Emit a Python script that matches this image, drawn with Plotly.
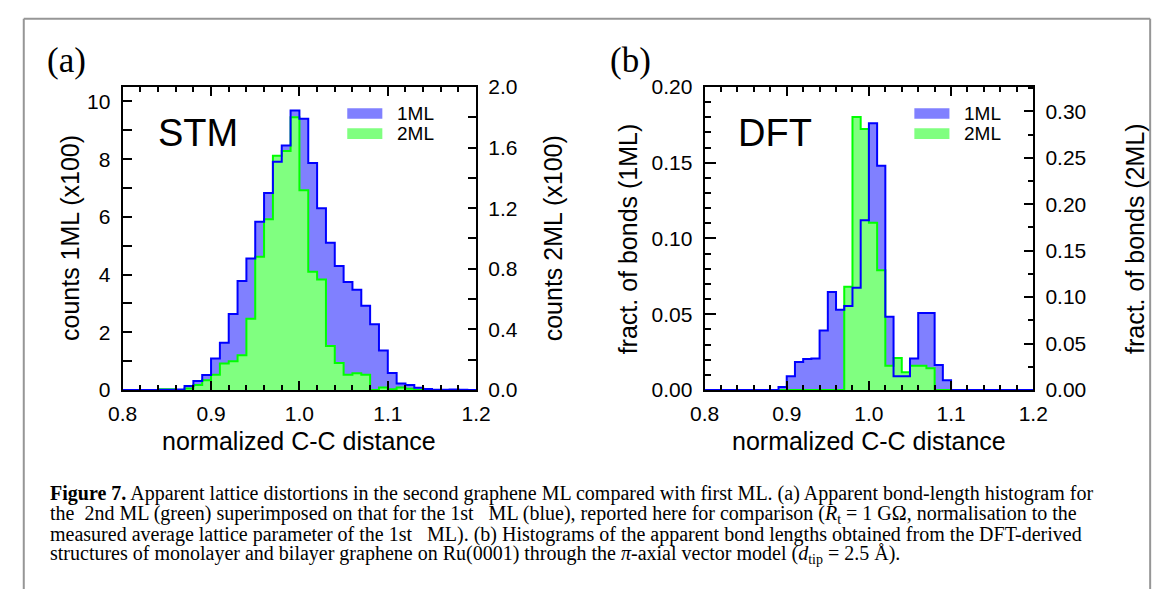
import numpy as np
import plotly.graph_objects as go

W, H = 1171, 601

# ---------------- data ----------------
# bin left edges: 0.80 ... 1.19 (width 0.01)
bin_left = [round(0.80 + 0.01 * i, 2) for i in range(40)]
bin_width = 0.01

# (a) STM: counts (x100)
stm_1ml = [0, 0, 0, 0, 0.01, 0.01, 0.02, 0.14, 0.31, 0.52,
           1.09, 1.64, 2.63, 3.78, 4.56, 5.83, 6.83, 7.91, 8.47, 9.69,
           9.40, 7.87, 6.30, 5.10, 4.30, 3.74, 3.47, 2.92, 2.28, 1.37,
           0.59, 0.22, 0.17, 0.08, 0.03, 0.01, 0.01, 0.02, 0.01, 0]
stm_2ml = [0, 0, 0, 0, 0.005, 0.005, 0, 0.01, 0.032, 0.064,
           0.10, 0.174, 0.19, 0.229, 0.47, 0.88, 1.127, 1.547, 1.578, 1.80,
           1.318, 0.78, 0.73, 0.29, 0.178, 0.10, 0.11, 0.10, 0.0, 0.017,
           0.005, 0.017, 0.008, 0, 0, 0, 0, 0, 0, 0]

# (b) DFT: fraction of bonds
dft_1ml = [0, 0, 0, 0, 0, 0, 0, 0, 0, 0.002,
           0.0091, 0.0184, 0.0205, 0.0208, 0.0392, 0.0646, 0.053, 0.0555, 0.0674, 0.112,
           0.176, 0.148, 0.0483, 0.0091, 0.0091, 0.0208, 0.0508, 0.0508, 0.0165, 0.0064,
           0, 0, 0, 0, 0, 0, 0, 0, 0, 0]
dft_2ml = [0, 0, 0, 0, 0, 0, 0, 0, 0, 0,
           0, 0, 0, 0, 0, 0, 0, 0.111, 0.294, 0.281,
           0.180, 0.129, 0.026, 0.0345, 0.019, 0.026, 0.026, 0.0234, 0, 0,
           0, 0, 0, 0, 0, 0, 0, 0, 0, 0]

series_names = ["1ML", "2ML"]
xtick_vals = [0.8, 0.9, 1.0, 1.1, 1.2]

# ---------------- style ----------------
BLUE_FILL = "rgb(128,128,255)"
BLUE_LINE = "rgb(0,0,255)"
GREEN_FILL = "rgb(128,255,128)"
GREEN_LINE = "rgb(0,255,0)"
SANS = "Liberation Sans, Arial, sans-serif"
SERIF = "Liberation Serif, Times New Roman, serif"
TICKFONT = dict(family=SANS, size=21, color="black")


def px2x(p):
    return p / W


def px2y(p):
    return 1 - p / H


def steps(vals):
    xs = bin_left + [round(bin_left[-1] + bin_width, 2)]
    ys = list(vals) + [vals[-1]]
    return xs, ys


fig = go.Figure()


def add_hist(vals, xa, ya, fillcolor, linecolor, fill=True, line=True, name=None):
    xs, ys = steps(vals)
    fig.add_trace(go.Scatter(
        x=xs, y=ys, mode="lines", line_shape="hv",
        line=dict(color=linecolor if line else "rgba(0,0,0,0)", width=2),
        fill="tozeroy" if fill else None,
        fillcolor=fillcolor if fill else None,
        xaxis=xa, yaxis=ya, showlegend=False, name=name, hoverinfo="skip"))


# panel (a)
add_hist(stm_1ml, "x", "y", BLUE_FILL, BLUE_LINE, fill=True, line=False, name="1ML")
add_hist(stm_2ml, "x", "y2", GREEN_FILL, GREEN_LINE, fill=True, line=True, name="2ML")
add_hist(stm_1ml, "x", "y5", None, BLUE_LINE, fill=False, line=True, name="1ML")
# panel (b)
add_hist(dft_1ml, "x2", "y3", BLUE_FILL, BLUE_LINE, fill=True, line=False, name="1ML")
add_hist(dft_2ml, "x2", "y4", GREEN_FILL, GREEN_LINE, fill=True, line=True, name="2ML")
add_hist(dft_1ml, "x2", "y6", None, BLUE_LINE, fill=False, line=True, name="1ML")

A_X = (110.5, 473.3)
B_X = (707.7, 1045.0)
Y_TOP, Y_BOT = 78, 393
ydom = [px2y(Y_BOT), px2y(Y_TOP)]


def xaxis_cfg(dom, anchor):
    return dict(domain=[px2x(dom[0]), px2x(dom[1])], anchor=anchor, range=[0.8, 1.2],
                tickvals=xtick_vals, tickformat=".1f", ticks="inside", ticklen=9, tickwidth=1.5,
                minor=dict(dtick=0.02, tick0=0.8, ticks="inside", ticklen=5, tickwidth=1.5, tickcolor="black"),
                mirror="ticks", showline=True, linewidth=2, linecolor="black", tickcolor="black",
                showgrid=False, zeroline=False, tickfont=TICKFONT, ticklabelstandoff=4)


def yaxis_cfg(rng, dtick, fmt, mdtick, tl, mtl, side, anchor, overlaying=None):
    d = dict(domain=ydom, anchor=anchor, range=rng, dtick=dtick, tick0=0, tickformat=fmt,
             ticks="inside", ticklen=tl, tickwidth=1.5, tickcolor="black",
             minor=dict(dtick=mdtick, tick0=0, ticks="inside", ticklen=mtl, tickwidth=1.5, tickcolor="black"),
             showline=True, linewidth=2, linecolor="black", side=side,
             showgrid=False, zeroline=False, tickfont=TICKFONT, ticklabelstandoff=6)
    if overlaying:
        d["overlaying"] = overlaying
    return d


fig.update_layout(
    width=W, height=H, margin=dict(l=0, r=0, t=0, b=0),
    paper_bgcolor="white", plot_bgcolor="rgba(0,0,0,0)", showlegend=False,
    xaxis=xaxis_cfg(A_X, "y"),
    xaxis2=xaxis_cfg(B_X, "y3"),
    yaxis=yaxis_cfg([0, 10.5], 2, "d", 1, 9, 9, "left", "x"),
    yaxis2=yaxis_cfg([0, 2.0], 0.4, ".1f", 0.2, 8, 8, "right", "x", overlaying="y"),
    yaxis3=yaxis_cfg([0, 0.2], 0.05, ".2f", 0.01, 11, 6, "left", "x2"),
    yaxis4=yaxis_cfg([0, 0.3262], 0.05, ".2f", 0.025, 9, 5, "right", "x2", overlaying="y3"),
    yaxis5=dict(domain=ydom, anchor="x", range=[0, 10.5], overlaying="y", visible=False),
    yaxis6=dict(domain=ydom, anchor="x2", range=[0, 0.2], overlaying="y3", visible=False),
)

ann = []


def text(x, y, s, size, family=SANS, angle=0, xanchor="center", yanchor="middle"):
    ann.append(dict(x=px2x(x), y=px2y(y), xref="paper", yref="paper", text=s, showarrow=False,
                    font=dict(family=family, size=size, color="black"), textangle=angle,
                    xanchor=xanchor, yanchor=yanchor))


# panel labels
text(53, 50, "(a)", 35, SERIF)
text(632, 50, "(b)", 35, SERIF)
# inset titles
text(188, 126, "STM", 38)
text(780, 126, "DFT", 38)
# axis titles
text(291, 446, "normalized C-C distance", 25)
text(876, 446, "normalized C-C distance", 25)
text(57, 235.5, "counts 1ML (x100)", 25, angle=-90)
text(553, 235.5, "counts 2ML (x100)", 25, angle=-90)
text(630, 235.5, "fract. of bonds (1ML)", 25, angle=-90)
text(1150, 235.5, "fract. of bonds (2ML)", 25, angle=-90)

# legends
shapes = []
for (sx, tx) in [(341, 390), (923, 972)]:
    for i, (nm, col) in enumerate(zip(series_names, [BLUE_FILL, GREEN_FILL])):
        yc = 105.5 + 21 * i
        shapes.append(dict(type="rect", xref="paper", yref="paper",
                           x0=px2x(sx), x1=px2x(sx + 36), y0=px2y(yc + 5.5), y1=px2y(yc - 5.5),
                           fillcolor=col, line=dict(width=0)))
        text(tx, yc, nm, 19, xanchor="left")

# outer frame (open at the bottom, kept inside the page)
FRAME = dict(color="rgb(150,150,150)", width=2)
for (x0, y0, x1, y1) in [(9, 600, 9, 7), (9, 7, 1165, 7), (1165, 7, 1165, 600)]:
    shapes.append(dict(type="line", xref="paper", yref="paper",
                       x0=px2x(x0), y0=px2y(y0), x1=px2x(x1), y1=px2y(y1), line=FRAME))

# caption
caption_lines = [
    "<b>Figure 7.</b> Apparent lattice distortions in the second graphene ML compared with first ML. (a) Apparent bond-length histogram for",
    "the  2nd ML (green) superimposed on that for the 1st   ML (blue), reported here for comparison (<i>R</i><sub>t</sub> = 1 GΩ, normalisation to the",
    "measured average lattice parameter of the 1st   ML). (b) Histograms of the apparent bond lengths obtained from the DFT-derived",
    "structures of monolayer and bilayer graphene on Ru(0001) through the <i>π</i>-axial vector model (<i>d</i><sub>tip</sub> = 2.5 Å).",
]
for i, line in enumerate(caption_lines):
    text(34, 501 + 21 * i, line, 20, SERIF, xanchor="left")

fig.update_layout(annotations=ann, shapes=shapes)
fig.write_html("out.html")
